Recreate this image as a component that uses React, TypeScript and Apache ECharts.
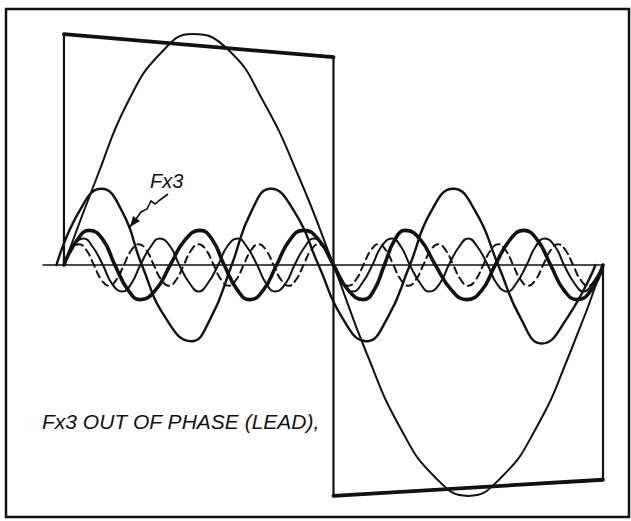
import React, { useEffect, useRef } from "react";
import * as echarts from "echarts";

// x: degrees of the fundamental period, y: relative amplitude (fundamental = 100)
const squareTop: number[][] = [[0, 100], [180, 90]];
const squareBottom: number[][] = [[180, -100], [360, -93]];
const squareSides: number[][] = [
  [0, 0], [0, 100], null as any, [180, 90], [180, -100], null as any, [360, -93], [360, 0],
];

const fundamental: number[][] = [
  [0, 0], [22, 38], [43, 71], [65, 92], [86, 100], [110, 93], [133, 71], [157, 38], [180, 0],
  [202, -38], [225, -71], [248, -92], [270, -100], [292, -92], [315, -71], [338, -38], [360, 0],
];

const fx3: number[][] = [
  [-5, 0], [10, 23], [25, 33], [39, 23], [52, 0], [68, -23], [85, -33], [98, -23], [112, 0],
  [125, 23], [138, 33], [154, 23], [170, 0], [186, -23], [202, -33], [216, -23], [231, 0],
  [245, 23], [260, 33], [275, 23], [290, 0], [305, -23], [319, -34], [336, -23], [355, 0],
];

const fx5: number[][] = [
  [0, 0], [9, 11], [17, 15], [26, 11], [34, 0], [43, -11], [51, -15], [61, -11], [71, 0],
  [81, 11], [91, 15], [99, 11], [107, 0], [116, -11], [124, -15], [133, -11], [142, 0],
  [151, 11], [160, 15], [170, 11], [180, 0], [190, -11], [200, -15], [207, -11], [214, 0],
  [221, 11], [228, 15], [238, 11], [248, 0], [259, -11], [269, -15], [279, -11], [288, 0],
  [298, 11], [307, 15], [316, 11], [325, 0], [334, -11], [343, -15], [352, -11], [360, 0],
];

const fx7: number[][] = [
  [0, 0], [6, 8], [13, 11.5], [19, 8], [26, 0], [32, -8], [39, -11.5], [45, -8], [51, 0],
  [58, 8], [64, 11.5], [71, 8], [77, 0], [84, -8], [90, -11.5], [96, -8], [103, 0],
  [109, 8], [116, 11.5], [122, 8], [129, 0], [135, -8], [141, -11.5], [148, -8], [154, 0],
  [161, 8], [167, 11.5], [174, 8], [180, 0], [186, -8], [193, -11.5], [199, -8], [206, 0],
  [212, 8], [219, 11.5], [225, 8], [231, 0], [238, -8], [244, -11.5], [251, -8], [257, 0],
  [264, 8], [270, 11.5], [276, 8], [283, 0], [289, -8], [296, -11.5], [302, -8], [309, 0],
  [315, 8], [321, 11.5], [328, 8], [334, 0], [341, -8], [347, -11.5], [353, -8], [360, 0],
];

const fx9: number[][] = [
  [0, 0], [5, 6.4], [10, 9], [15, 6.4], [20, 0], [25, -6.4], [30, -9], [35, -6.4], [40, 0],
  [45, 6.4], [50, 9], [55, 6.4], [60, 0], [65, -6.4], [70, -9], [75, -6.4], [80, 0],
  [85, 6.4], [90, 9], [95, 6.4], [100, 0], [105, -6.4], [110, -9], [115, -6.4], [120, 0],
  [125, 6.4], [130, 9], [135, 6.4], [140, 0], [145, -6.4], [150, -9], [155, -6.4], [160, 0],
  [165, 6.4], [170, 9], [175, 6.4], [180, 0], [185, -6.4], [190, -9], [195, -6.4], [200, 0],
  [205, 6.4], [210, 9], [215, 6.4], [220, 0], [225, -6.4], [230, -9], [235, -6.4], [240, 0],
  [245, 6.4], [250, 9], [255, 6.4], [260, 0], [265, -6.4], [270, -9], [275, -6.4], [280, 0],
  [285, 6.4], [290, 9], [295, 6.4], [300, 0], [305, -6.4], [310, -9], [315, -6.4], [320, 0],
  [325, 6.4], [330, 9], [335, 6.4], [340, 0], [345, -6.4], [350, -9], [355, -6.4], [360, 0],
];

const curveLabel = "Fx3";
const caption = "Fx3 OUT OF PHASE (LEAD),";

const INK = "#111";

export default function App() {
  const ref = useRef<HTMLDivElement>(null);
  useEffect(() => {
    if (!ref.current) return;
    const chart = echarts.init(ref.current, null, { renderer: "svg" });
    const line = (data: any[], width: number, smooth: boolean, dashed = false) => ({
      type: "line",
      data,
      smooth,
      showSymbol: false,
      silent: true,
      connectNulls: false,
      lineStyle: {
        color: INK,
        width,
        type: dashed ? [7, 5] : "solid",
        cap: "round",
        join: "round",
      },
    });
    chart.setOption({
      animation: false,
      backgroundColor: "#fff",
      grid: { left: 43, right: 28, top: 11, bottom: 2 },
      xAxis: {
        type: "value",
        min: -14,
        max: 360,
        axisLine: { show: true, onZero: true, lineStyle: { color: INK, width: 1.5 } },
        axisTick: { show: false },
        axisLabel: { show: false },
        splitLine: { show: false },
      },
      yAxis: {
        type: "value",
        min: -110,
        max: 110,
        show: false,
        splitLine: { show: false },
      },
      series: [
        line(squareSides, 2.2, false),
        line(squareTop, 3.8, false),
        line(squareBottom, 3.8, false),
        line(fundamental, 2, true),
        line(fx3, 2.4, true),
        line(fx5, 3.6, true),
        line(fx7, 2, true),
        line(fx9, 2, true, true),
      ],
      graphic: [
        {
          type: "rect",
          shape: { x: 6, y: 9, width: 623, height: 508 },
          style: { fill: "none", stroke: INK, lineWidth: 2.5 },
          silent: true,
        },
        {
          type: "text",
          x: 150,
          y: 181,
          style: {
            text: curveLabel,
            fontSize: 20,
            fontStyle: "italic",
            fontFamily: "Liberation Sans",
            fill: INK,
            textVerticalAlign: "middle",
          },
        },
        {
          type: "polyline",
          shape: {
            points: [[168, 194], [160, 200], [155, 204], [151, 201], [147, 209], [141, 212], [136, 219], [129, 228]],
          },
          style: { stroke: INK, lineWidth: 1.6, fill: "none" },
        },
        {
          type: "polygon",
          shape: { points: [[130, 227], [133, 216], [140, 221]] },
          style: { fill: INK },
        },
        {
          type: "text",
          x: 42,
          y: 421,
          style: {
            text: caption,
            fontSize: 21,
            fontStyle: "italic",
            fontFamily: "Liberation Sans",
            fill: INK,
            textVerticalAlign: "middle",
          },
        },
      ],
    });
    return () => chart.dispose();
  }, []);
  return (
    <div
      ref={ref}
      style={{ position: "fixed", left: 0, top: 0, width: 631, height: 521, background: "#fff" }}
    />
  );
}
